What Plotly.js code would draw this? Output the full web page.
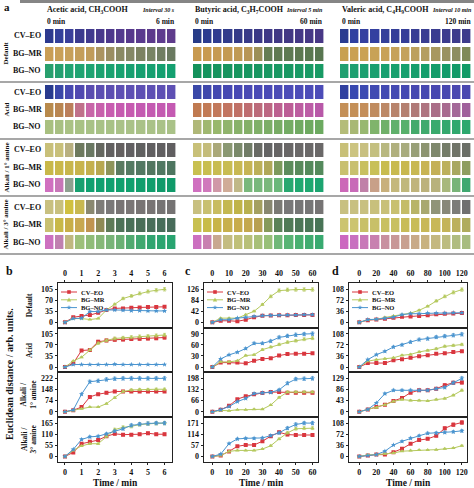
<!DOCTYPE html>
<html><head><meta charset="utf-8">
<script src="https://cdn.plot.ly/plotly-3.0.1.min.js"></script>
<style>html,body{margin:0;padding:0;background:#fff}#chart{width:474px;height:488px}</style>
</head><body><div id="chart"></div>
<script>
// ---------- labels ----------
const acids = ['Acetic acid, CH<sub>3</sub>COOH','Butyric acid, C<sub>3</sub>H<sub>7</sub>COOH','Valeric acid, C<sub>4</sub>H<sub>9</sub>COOH'];
const intervals = ['Interval 30 s','Interval 5 min','Interval 10 min'];
const startLabels = ['0 min','0 min','0 min'];
const endLabels = ['6 min','60 min','120 min'];
const groups = ['Default','Acid','Alkali / 1° amine','Alkali / 3° amine'];
const groupsB = ['Default','Acid','Alkali /<br>1° amine','Alkali /<br>3° amine'];
const dyes = ['CV–EO','BG–MR','BG–NO'];
const panelLetters = ['b','c','d'];

// ---------- panel a colours (rows: Default CV,MR,NO; Acid CV,MR,NO; Alk1 ...; Alk3 ...) ----------
const aceticColors = [
 ['#2d3a8e','#34409a','#3a3f9a','#3b3a8e','#413a8e','#48398c','#4d388c','#533a8e','#56388c','#5a3a8e','#5c3a8c','#5e3c8e','#5f3c8c'],
 ['#c99e55','#c9a058','#c7a05a','#c49e5a','#c09c5a','#ab9460','#9a8e62','#8a8a64','#858866','#7c8262','#788464','#707e62','#6a7a60'],
 ['#28a06e','#24a070','#22a472','#20a472','#1ea472','#1ca270','#1aa270','#18a270','#18a070','#16a070','#16a070','#14a070','#14a070'],
 ['#283a8e','#3a46a8','#4848b0','#5048b0','#5a4cb0','#5c4eb2','#5c4eb2','#5e50b4','#5e50b4','#5e50b4','#5e50b4','#5e50b4','#5e50b4'],
 ['#b88a4c','#b98550','#bb7e5a','#c0708a','#c865a8','#c860ac','#c85cb0','#c65ab0','#c65ab0','#c45ab2','#c45ab2','#c45ab2','#c45ab2'],
 ['#a8c080','#a8c082','#aac284','#a8c284','#a8c286','#a8c286','#a8c286','#aac288','#aac288','#aac288','#aac288','#aac288','#aac288'],
 ['#c8c07a','#c8c07a','#b8b080','#6e7a5e','#6a7862','#65675f','#626060','#646060','#626062','#606060','#605e60','#605e60','#605e60'],
 ['#c8b84a','#cab84a','#c8b64c','#c8b44c','#c4b04e','#b8a850','#8e945a','#5a7a60','#547a62','#527862','#527660','#507862','#4e7660'],
 ['#d070c0','#c876b8','#8ea090','#18a070','#10a070','#10a070','#10a070','#10a06e','#10a06e','#109e6c','#109e6c','#109a6a','#109a6a'],
 ['#c8c080','#c8c07e','#d0c040','#c8b850','#8a8870','#7e7c78','#7a7878','#787474','#7a7676','#787474','#787474','#767474','#757373'],
 ['#c8c070','#c8b848','#c8ae48','#c8a850','#c09450','#8e8a55','#5e7a58','#4e7258','#4a7058','#4a6e58','#4a6e5a','#486e5a','#486c5a'],
 ['#cc70c0','#c080b0','#c0b880','#9ec07a','#90bc78','#86b878','#78b478','#6ab074','#50aa70','#40a870','#30a470','#2ca470','#28a470']
];
const butyricColors = [
 ['#283c88','#2c3c90','#303c90','#323c8c','#343a88','#383a88','#3a3886','#3e3886','#403884','#423884','#443886','#463886','#483886'],
 ['#c89a50','#c89a50','#c69a52','#c49a52','#c09a54','#b89656','#9c9058','#667e54','#607a52','#5e7a52','#5c7850','#5a7850','#587650'],
 ['#14925c','#14945e','#16945e','#16945e','#16965e','#169660','#169660','#189862','#189862','#189862','#189a64','#189a64','#189a64'],
 ['#3a48a8','#4048ac','#4448b0','#4648b2','#4848b4','#4a4ab4','#4a4ab6','#4a4ab6','#4c4cb6','#4c4cb8','#4c4cb8','#4c4cb8','#4c4cb8'],
 ['#c07a50','#c27a55','#c2785a','#c27460','#c07066','#be6c70','#bc6a7a','#bc6682','#bc6090','#bc5c96','#bc5ca0','#bc5ca6','#b858a8'],
 ['#b0b878','#a0b870','#98b86c','#90b46c','#88b26a','#84b068','#80b068','#7cae66','#78ac64','#74ac64','#70aa62','#6eaa60','#6caa60'],
 ['#c8c078','#c4bc7a','#aaa878','#8a9872','#7a8a6a','#707c66','#686a64','#646464','#666464','#686666','#6a6868','#6a6868','#6a6868'],
 ['#c8c050','#c8be50','#c8bc52','#c8bc52','#c8b852','#c6b454','#bcb058','#b0a858','#7c9a5c','#5c8c5c','#588a5c','#548a5c','#548a5c'],
 ['#d070c0','#d078bc','#d098a8','#d0ac98','#c0b888','#7ab87c','#78b87c','#7ab87c','#6ab87a','#28a870','#20a870','#1ea870','#1ca470'],
 ['#c8c080','#c8c070','#c8bc60','#c4b850','#c0b448','#b8b04e','#a4a060','#888870','#7a7a74','#787878','#767676','#767676','#767474'],
 ['#c8c050','#c8bc48','#c8b448','#c8b04c','#c8ac4c','#c4a84e','#b8a050','#869a5a','#5a8258','#507a56','#4c7656','#4a7656','#487456'],
 ['#cc70c0','#c880b0','#c8a890','#c4bc80','#c0c078','#b8c078','#a8c078','#98c078','#70b878','#58b474','#48b070','#40ac70','#38aa70']
];
const valericColors = [
 ['#2a3c90','#3040a0','#3440a0','#3440a0','#34409a','#343e98','#363e98','#383e94','#3a3e92','#3a3c90','#3c3c8e','#3e3c8c','#3e3c8c'],
 ['#c8a050','#caa052','#caa254','#c8a256','#c8a258','#c6a25a','#c4a25c','#bca05e','#b49e60','#a89860','#9a9260','#8e8e60','#808a58'],
 ['#20a070','#1ea070','#1ca070','#1aa070','#18a070','#18a06e','#16a06e','#169e6c','#149e6c','#149c6a','#129c6a','#129a68','#109a66'],
 ['#3040a0','#3848b0','#3c4ab2','#404ab2','#424ab2','#444ab2','#4448b2','#4648b0','#4648b0','#4848b0','#4848b0','#4a48b0','#4a48b0'],
 ['#c49058','#c49058','#c48e5a','#c08c60','#bc8866','#b8846c','#b48070','#b07a78','#ae7480','#aa6e88','#a86a90','#a46898','#a0609c'],
 ['#b4bc78','#a8b874','#98b870','#80b46c','#70b06a','#60b06c','#58b06c','#44aa6c','#40aa6e','#3aaa6e','#34a86e','#30a86e','#2ca86e'],
 ['#c8c078','#ccc480','#c8c080','#c4c080','#b8b880','#b0b07e','#a8ac7e','#98a078','#8c9470','#7e886c','#747c68','#707468','#6a6e66'],
 ['#c8c070','#c8c070','#c8c060','#c8c058','#c8bc50','#c8ba50','#c8b850','#c8b852','#c8b454','#c4b058','#bcb05c','#a8a860','#8e9e60'],
 ['#cc68b8','#c86ab8','#c080a8','#c8a088','#c8b07c','#c4b87c','#c0b87c','#c0b47c','#bcb27c','#b8b27c','#a8b87c','#78b478','#40a870'],
 ['#c8c080','#c8c080','#c8c080','#c8c07c','#c8c078','#c8c070','#c4bc68','#b8b468','#a8a870','#909478','#888878','#7c7c78','#707070'],
 ['#ccc470','#ccc470','#c8c068','#c8c068','#c8c060','#c8c060','#c8bc58','#c8bc58','#c8b858','#c8b858','#c4b45a','#bcb05c','#b0ac5e'],
 ['#cc68c0','#c870c0','#c878b8','#c880b0','#c890a0','#c89898','#c8a090','#c8aa88','#c8b280','#c4b880','#bcbc80','#b0bc80','#a8bc80']
];

// ---------- time axes ----------
const timeAcetic  = [0,0.5,1,1.5,2,2.5,3,3.5,4,4.5,5,5.5,6];
const timeButyric = [0,5,10,15,20,25,30,35,40,45,50,55,60];
const timeValeric = [0,10,20,30,40,50,60,70,80,90,100,110,120];

// ---------- Euclidean distances (rows: Default, Acid, Alk1, Alk3) ----------
const aceticCV = [
 [0,16,20,23,30,39,44,44,46,47,48,48,49],
 [0,12,52,54,80,84,86,87,88,89,90,91,93],
 [0,10,31,99,117,126,135,135,135,135,135,135,135],
 [0,20,63,73,81,100,112,108,108,110,115,110,110]];
const aceticMR = [
 [0,12,12,9,12,39,57,75,83,91,97,101,104],
 [0,19,31,54,75,84,90,92,94,96,97,99,101],
 [0,8,20,31,31,54,94,135,145,148,148,150,150],
 [0,30,52,63,63,100,133,144,149,158,162,164,165]];
const aceticNO = [
 [0,12,13,34,34,39,39,38,37,37,36,36,36],
 [0,8,8,8,8,8,9,8,8,8,8,8,8],
 [0,12,117,200,206,215,220,222,222,222,222,222,222],
 [0,35,84,97,100,112,125,137,154,160,163,165,165]];
const butyricCV = [
 [0,6,6,4,10,19,25,26,27,27,28,28,28],
 [0,12,12,12,10,17,22,24,31,35,36,36,37],
 [0,12,35,75,92,104,112,117,117,113,113,113,113],
 [0,5,26,52,59,59,78,104,124,112,110,110,110]];
const butyricMR = [
 [0,16,16,16,29,42,67,98,120,123,124,124,124],
 [0,14,14,17,31,33,47,54,61,67,71,75,78],
 [0,8,6,12,12,15,15,40,85,117,117,117,117],
 [0,5,26,31,31,31,38,55,90,121,142,145,145]];
const butyricNO = [
 [0,10,10,16,19,23,25,26,27,28,28,29,29],
 [0,22,33,40,50,64,64,70,80,84,87,89,90],
 [0,12,31,60,79,108,112,115,130,169,194,196,198],
 [0,12,66,90,93,93,95,107,121,145,164,171,171]];
const valericCV = [
 [0,7,9,12,15,18,19,21,23,26,28,29,30],
 [0,13,13,13,22,25,30,35,38,43,45,49,51],
 [0,9,18,27,42,53,74,83,83,89,103,112,113],
 [0,3,6,6,14,25,41,53,57,67,91,103,110]];
const valericMR = [
 [0,8,10,16,21,25,30,39,52,69,84,97,106],
 [0,19,24,27,30,38,41,49,54,59,67,70,73],
 [0,9,16,27,40,47,44,44,42,47,51,64,83],
 [0,5,6,9,11,17,19,21,21,22,25,27,35]];
const valericNO = [
 [0,9,10,13,17,25,28,28,30,30,30,31,31],
 [0,24,40,51,65,72,81,89,92,97,100,103,106],
 [0,9,34,70,83,83,83,83,83,89,94,112,129],
 [0,3,6,17,37,49,59,67,75,76,78,80,83]];

// ---------- tick labels ----------
const yTickTops = [[105,105,222,165],[126,90,198,171],[108,108,129,108]];
const xTicks = [[0,1,2,3,4,5,6],[0,10,20,30,40,50,60],[0,20,40,60,80,100,120]];

// ================= build =================
const W = 474, H = 488;
const px = v => v / W, py = v => 1 - v / H;
const FONT = 'Liberation Serif, Times New Roman, serif';
const traces = [], annotations = [], shapes = [];
const layout = {
  width: W, height: H, margin: {l:0,r:0,t:0,b:0},
  paper_bgcolor: '#fff', plot_bgcolor: 'rgba(0,0,0,0)',
  font: {family: FONT, color: '#111', size: 9, weight: 'bold'},
  showlegend: false, annotations, shapes
};
const ann = (o) => annotations.push(Object.assign({xref:'paper', yref:'paper', showarrow:false, xanchor:'center', yanchor:'middle'}, o));

// ---- panel a (heatmaps in a pixel-like axis) ----
layout.xaxis = {domain:[0,1], range:[0,W], visible:false, fixedrange:true};
layout.yaxis = {domain:[py(258),1], range:[258,0], visible:false, fixedrange:true};
const colorSets = [aceticColors, butyricColors, valericColors];
const colLeft = [45, 193, 340], colWidth = 132;
const groupTops = [29, 85, 143, 200], rowPitch = 17.5, rowH = 14;
const yEdges = [];
for (let g = 0; g < 4; g++) for (let d = 0; d < 3; d++) {
  const t = groupTops[g] + d * rowPitch; yEdges.push(t, t + rowH);
}
colorSets.forEach((set, c) => {
  const xEdges = [];
  for (let k = 0; k <= 13; k++) xEdges.push(colLeft[c] + k * colWidth / 13);
  const z = [], cs = [];
  const N = set.length * 13;
  set.forEach((row, r) => {
    z.push(row.map((col, k) => r * 13 + k));
    row.forEach((col, k) => cs.push([(r * 13 + k) / (N - 1), col]));
    if (r < set.length - 1) z.push(row.map(() => null));
  });
  traces.push({type:'heatmap', x:xEdges, y:yEdges, z, colorscale:cs, zmin:0, zmax:N-1,
    showscale:false, xgap:1.6, hoverinfo:'skip', showlegend:false, xaxis:'x', yaxis:'y'});
  const right = colLeft[c] + colWidth;
  ann({text:'<b>'+acids[c]+'</b>', x:px(colLeft[c]), y:py(10), xanchor:'left', font:{size:8}});
  ann({text:'<b><i>'+intervals[c]+'</i></b>', x:px(c===2?473.5:right), y:py(10), xanchor:'right', font:{size:6}});
  ann({text:'<b>'+startLabels[c]+'</b>', x:px(colLeft[c]), y:py(21), xanchor:'left', font:{size:7.5}});
  ann({text:'<b>'+endLabels[c]+'</b>', x:px(c===2?473:right), y:py(21), xanchor:'right', font:{size:7.5}});
});
ann({text:'<b>a</b>', x:px(2), y:py(7), xanchor:'left', font:{size:11}});
groups.forEach((gname, g) => {
  dyes.forEach((dn, d) => {
    ann({text:'<b>'+dn+'</b>', x:px(27), y:py(groupTops[g] + d*rowPitch + rowH/2), font:{size:8}});
  });
  ann({text:'<b>'+gname+'</b>', x:px(6), y:py(groupTops[g] + rowPitch + rowH/2), textangle:-90, font:{size:7}});
});
shapes.push({type:'line', xref:'paper', yref:'paper', x0:px(20), x1:1, y0:py(1.5), y1:py(1.5), line:{color:'#858585', width:3}});
[82, 139, 196, 254].forEach(yv => shapes.push({type:'line', xref:'paper', yref:'paper', x0:0, x1:1, y0:py(yv), y1:py(yv), line:{color:'#8a8a8a', width:1.5}}));

// ---- panels b, c, d ----
const times = [timeAcetic, timeButyric, timeValeric];
const series = [[aceticCV, aceticMR, aceticNO],[butyricCV, butyricMR, butyricNO],[valericCV, valericMR, valericNO]];
const dyeColors = ['#d9363e', '#b5c95e', '#4a94cf'];
const dyeSymbols = ['square', 'triangle-up', 'star'];
const panelX = [[58,172],[204,318],[349,467]];
const xRanges = [[-0.42,6.45],[-5,63.3],[-12,126]];
const subTop = 283, subH = 44.7;

// legend sample marker paths (pixel units, centred at cx,cy)
function markerPath(sym, cx, cy) {
  const X = v => px(cx + v), Y = v => py(cy + v);
  if (sym === 'square') return `M${X(-1.8)},${Y(-1.8)} L${X(1.8)},${Y(-1.8)} L${X(1.8)},${Y(1.8)} L${X(-1.8)},${Y(1.8)} Z`;
  if (sym === 'triangle-up') return `M${X(0)},${Y(-2.2)} L${X(2.2)},${Y(1.6)} L${X(-2.2)},${Y(1.6)} Z`;
  let d = '';
  for (let i = 0; i < 10; i++) {
    const a = -Math.PI/2 + i*Math.PI/5, rr = i%2 ? 1.0 : 2.5;
    d += (i ? ' L' : 'M') + X(rr*Math.cos(a)) + ',' + Y(rr*Math.sin(a));
  }
  return d + ' Z';
}

for (let p = 0; p < 3; p++) {
  for (let r = 0; r < 4; r++) {
    const n = 2 + p*4 + r;
    const xa = 'xaxis'+n, ya = 'yaxis'+n;
    const top = subTop + r*subH, bot = top + subH;
    const m = yTickTops[p][r];
    const isTop = r === 0, isBot = r === 3;
    layout[xa] = {domain:[px(panelX[p][0]), px(panelX[p][1])], anchor:'y'+n, range:xRanges[p],
      showline:true, mirror:true, linecolor:'#222', linewidth:1, showgrid:false, zeroline:false,
      side: isTop ? 'top' : 'bottom', tickvals:xTicks[p], ticks:(isTop||isBot)?'outside':'', ticklen:2.5, tickcolor:'#222',
      showticklabels: isTop || isBot, tickfont:{size:8, family:FONT, weight:'bold'}, fixedrange:true};
    layout[ya] = {domain:[py(bot), py(top)], anchor:'x'+n, range:[-0.16*m, 1.18*m],
      showline:true, mirror:true, linecolor:'#222', linewidth:1, showgrid:false, zeroline:false,
      tickvals:[0, m/3, 2*m/3, m], ticktext:[0, m/3, 2*m/3, m].map(v => String(Math.round(v))),
      ticks:'outside', ticklen:2.5, tickcolor:'#222', tickfont:{size:8, family:FONT, weight:'bold'}, fixedrange:true};
    for (let d = 0; d < 3; d++) {
      traces.push({type:'scatter', mode:'lines+markers', x:times[p], y:series[p][d][r],
        xaxis:'x'+n, yaxis:'y'+n, name:dyes[d], showlegend:false,
        line:{color:dyeColors[d], width:1}, marker:{symbol:dyeSymbols[d], size:4, color:dyeColors[d]},
        error_y:{type:'percent', value:5, color:dyeColors[d], thickness:0.7, width:1.5},
        hoverinfo:'skip'});
    }
  }
  // legend inside the Default subplot
  dyes.forEach((dn, d) => {
    const ly = subTop + 9 + d * 7.8, lx0 = panelX[p][0] + 3, lx1 = lx0 + 16;
    shapes.push({type:'line', xref:'paper', yref:'paper', x0:px(lx0), x1:px(lx1), y0:py(ly), y1:py(ly), line:{color:dyeColors[d], width:1}});
    shapes.push({type:'path', xref:'paper', yref:'paper', path:markerPath(dyeSymbols[d], (lx0+lx1)/2, ly), fillcolor:dyeColors[d], line:{width:0}});
    ann({text:'<b>'+dn+'</b>', x:px(lx1 + 2), y:py(ly), xanchor:'left', font:{size:6.5}});
  });
  ann({text:'<b>'+panelLetters[p]+'</b>', x:px([4,183,330][p]), y:py(271), xanchor:'left', font:{size:12}});
  ann({text:'<b>Time / min</b>', x:px((panelX[p][0]+panelX[p][1])/2), y:py(482.5), font:{size:9.5}});
}
groupsB.forEach((gname, r) => {
  ann({text:'<b>'+gname+'</b>', x:px(29), y:py(subTop + r*subH + subH/2), textangle:-90, font:{size:7.5}});
});
ann({text:'<b>Euclidean distance / arb. units.</b>', x:px(9), y:py(374), textangle:-90, font:{size:10}});

Plotly.newPlot('chart', traces, layout, {staticPlot:true, displayModeBar:false});
</script>
</body></html>
